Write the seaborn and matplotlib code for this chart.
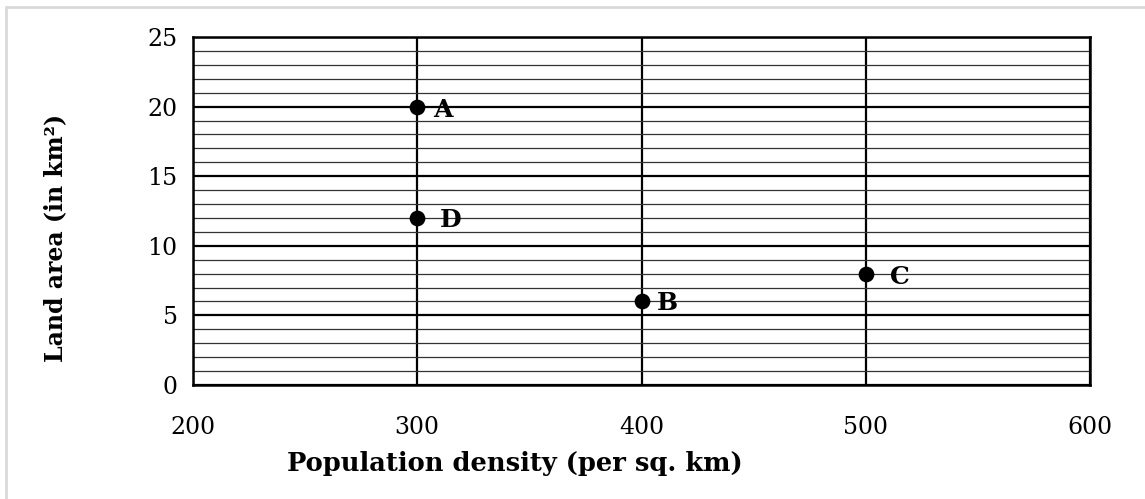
import matplotlib
matplotlib.use("Agg")
import matplotlib.pyplot as plt
import seaborn as sns
import pandas as pd
from matplotlib.lines import Line2D
from matplotlib.ticker import MultipleLocator

sns.set_theme(style="white")
plt.rcParams["font.family"] = ["DejaVu Serif"]
plt.rcParams["text.color"] = "black"
plt.rcParams["axes.labelcolor"] = "black"

# data
labels = ["A", "B", "C", "D"]
density = [300, 400, 500, 300]
land_area = [20, 6, 8, 12]
label_dx = [16, 15, 24, 23]  # label offsets from the point, pixels
label_dy = [-3, -2, -3, -2]

df = pd.DataFrame({"label": labels, "density": density, "area": land_area})

fig = plt.figure(figsize=(11.45, 4.99), dpi=100)
ax = fig.add_axes([193 / 1145, 1 - 385 / 499, (1090 - 193) / 1145, (385 - 37) / 499])

sns.scatterplot(data=df, x="density", y="area", ax=ax, color="black",
                s=128, edgecolor="black", linewidth=0, zorder=5, legend=False)

for lab, x, y, dx, dy in zip(labels, density, land_area, label_dx, label_dy):
    ax.annotate(lab, (x, y), xytext=(dx, dy), textcoords="offset pixels",
                ha="left", va="center", fontsize=18, fontweight="bold",
                color="black", zorder=6)

ax.set_xlim(200, 600)
ax.set_ylim(0, 25)
ax.xaxis.set_major_locator(MultipleLocator(100))
ax.yaxis.set_major_locator(MultipleLocator(5))
ax.yaxis.set_minor_locator(MultipleLocator(1))
ax.grid(which="major", axis="both", color="black", linewidth=1.6)
ax.grid(which="minor", axis="y", color="#333333", linewidth=0.9)
ax.set_axisbelow(True)
for sp in ax.spines.values():
    sp.set_color("black")
    sp.set_linewidth(1.8)

ax.tick_params(axis="x", which="both", length=0, labelsize=17, pad=22,
               colors="black")
ax.tick_params(axis="y", which="both", length=0, labelsize=17, pad=11,
               colors="black")

ax.set_xlabel("Population density (per sq. km)", fontsize=18.5,
              fontweight="bold", color="black")
ax.xaxis.set_label_coords(0.359, -0.227)
ax.xaxis.label.set_va("center")
ax.set_ylabel("Land area (in km²)", fontsize=17, fontweight="bold",
              color="black")
ax.yaxis.set_label_coords(-0.154, 0.422)
ax.yaxis.label.set_va("center")

# light frame along the top and left edges
fig.add_artist(Line2D([5.5 / 1145, 1], [1 - 6.5 / 499, 1 - 6.5 / 499],
                      transform=fig.transFigure, color="#d9d9d9", linewidth=2))
fig.add_artist(Line2D([5.5 / 1145, 5.5 / 1145], [0, 1 - 6.5 / 499],
                      transform=fig.transFigure, color="#d9d9d9", linewidth=2))

fig.savefig("out.png", dpi=100)
